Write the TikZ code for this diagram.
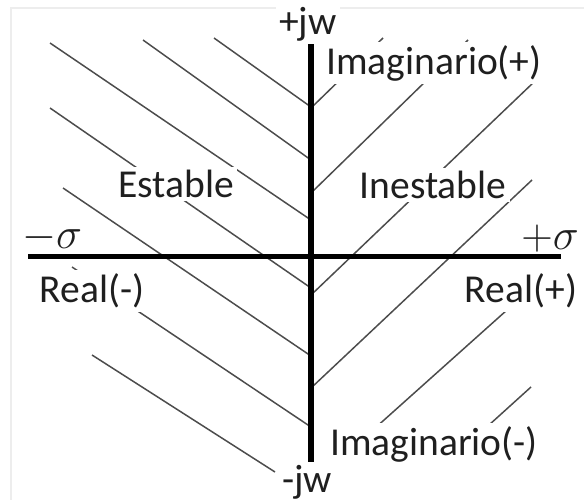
\documentclass[tikz,border=0pt]{standalone}
\usepackage{fontspec}
\setmainfont{Carlito}
\usepackage{tikz}
\usetikzlibrary{positioning, calc}

\begin{document}
\begin{tikzpicture}[x=0.02cm, y=-0.02cm,
    hatch/.style={black!70, line width=0.85pt},
    axisline/.style={black, line width=3.4pt},
    lbl/.style={fill=white, inner sep=2pt, text=black!88,
                font=\fontsize{22.5}{27}\selectfont},
    sig/.style={inner sep=0pt, text=black!88,
                font=\fontsize{27}{30}\selectfont}]

  \useasboundingbox (0,0) rectangle (584,500);

  % ==========================================
  % Frame (light border)
  % ==========================================
  \draw[black!7, line width=1.7pt] (584,8) -- (11,8) -- (11,500);

  % ==========================================
  % Left half-plane hatching (Estable)
  % ==========================================
  \draw[hatch] (214,38) -- (311,107);
  \draw[hatch] (143,40) -- (311,160);
  \draw[hatch] (50,43) -- (311,220);
  \draw[hatch] (50,108) -- (311,288);
  \draw[hatch] (63,188) -- (311,356);
  \draw[hatch] (72,267) -- (311,427);
  \draw[hatch] (92,355) -- (275,472);

  % ==========================================
  % Right half-plane hatching (Inestable)
  % ==========================================
  \draw[hatch] (311,108) -- (383,38);
  \draw[hatch] (311,193) -- (468,40);
  \draw[hatch] (311,295) -- (534,82);
  \draw[hatch] (311,388) -- (532,180);
  \draw[hatch] (336,463) -- (507,310);
  \draw[hatch] (447,463) -- (531,387);

  % ==========================================
  % Axes
  % ==========================================
  \coordinate (im top) at (311,42);
  \coordinate (im bot) at (311,463);
  \coordinate (re left) at (28,256.5);
  \coordinate (re right) at (561,256.5);
  \draw[axisline, line width=2.8pt] (re left) -- (re right);
  \draw[axisline] (im top) -- (im bot);

  % Labels
  \node[lbl] (pjw) at (308,24) {+jw};
  \node[lbl] (njw) at (307,482) {-jw};
  \node[lbl] (imagpos) at (434,63) {Imaginario(+)};
  \node[lbl] (imagneg) at (434,444) {Imaginario(-)};
  \node[lbl] (estable) at (176,184) {Estable};
  \node[lbl] (inestable) at (433,185) {Inestable};
  \node[lbl] (realneg) at (92,291) {Real(-)};
  \node[lbl] (realpos) at (521,291) {Real(+)};
  \node[sig] (negsigma) at (52,238) {$-\sigma$};
  \node[sig] (possigma) at (550,239) {$+\sigma$};

\end{tikzpicture}
\end{document}
